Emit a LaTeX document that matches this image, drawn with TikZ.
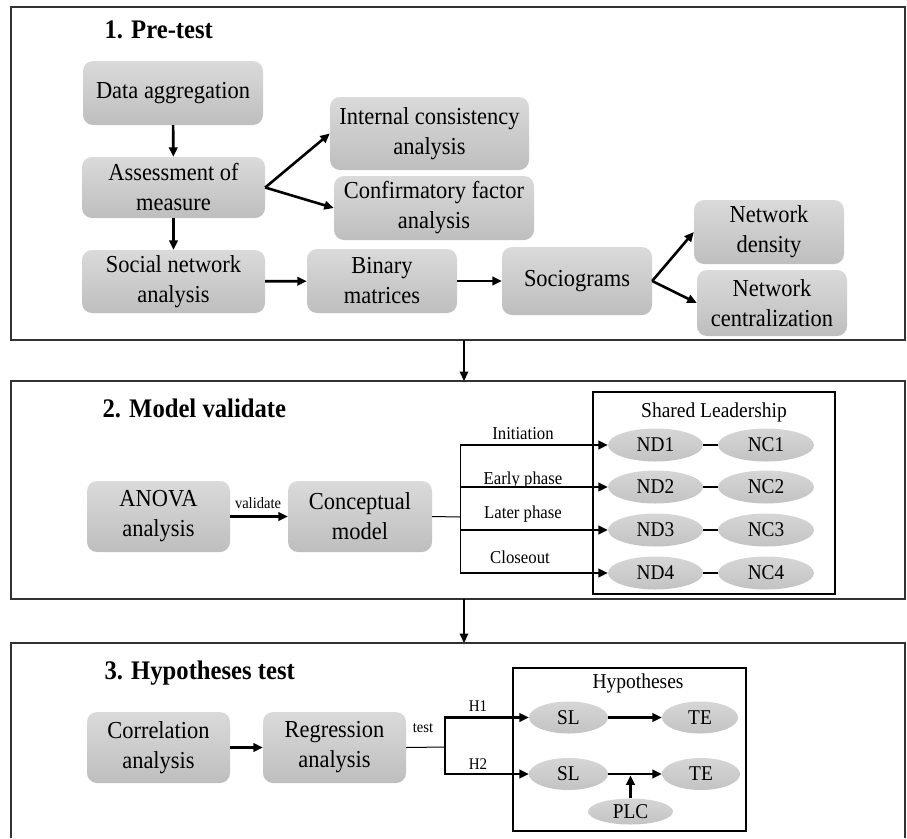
\documentclass[tikz,border=0pt]{standalone}
\usepackage{fontspec}
\setmainfont{Liberation Serif}[FakeStretch=0.92]
\usetikzlibrary{arrows.meta,shapes.geometric}

\definecolor{boxtop}{RGB}{218,218,218}
\definecolor{boxbot}{RGB}{190,190,190}
\definecolor{elltop}{RGB}{214,214,214}
\definecolor{ellbot}{RGB}{195,195,195}
\definecolor{framegray}{RGB}{50,50,50}

\newcommand\procfont{\fontsize{24.4}{30}\selectfont}
\newcommand\sectfont{\fontsize{26.8}{30}\selectfont\bfseries}
\newcommand\ellfont{\fontsize{21}{22}\selectfont}
\newcommand\grpfont{\fontsize{21.2}{22}\selectfont}
\newcommand\phasefont{\fontsize{18.2}{20}\selectfont}
\newcommand\smallfont{\fontsize{15.8}{17}\selectfont}
\newcommand\hypfont{\fontsize{16.3}{18}\selectfont}

\begin{document}
\begin{tikzpicture}[x=1pt,y=-1pt,
  procbox/.style={rounded corners=10pt, top color=boxtop, bottom color=boxbot,
    align=center, font=\procfont, inner sep=0pt},
  ell/.style={ellipse, top color=elltop, bottom color=ellbot, font=\ellfont, inner sep=0pt},
  arr/.style={line width=2.6pt, -{Triangle[length=9.5pt,width=8.5pt]}},
  linkline/.style={line width=1pt},
  secframe/.style={draw=framegray, line width=2pt},
  grpframe/.style={draw=black, line width=1.5pt}]

\useasboundingbox (0,0) rectangle (907,838);

% ---------- section frames ----------
\draw[secframe] (11,7) rectangle (905,340);
\draw[secframe] (11,381) rectangle (905,599);
\draw[secframe] (11,838) -- (11,643) -- (905,643) -- (905,838);

\coordinate (s1out) at (464,340);
\coordinate (s2in) at (464,381);
\coordinate (s2out) at (464,599);
\coordinate (s3in) at (464,643);
\draw[arr, line width=2pt] (s1out) -- (s2in);
\draw[arr, line width=2pt] (s2out) -- (s3in);

% ---------- 1. Pre-test ----------
\node[font=\sectfont, anchor=west] (t1) at (101,30) {1. Pre-test};

\node[procbox, minimum width=180pt, minimum height=64pt] (da) at (173,93) {Data aggregation};
\node[procbox, minimum width=183pt, minimum height=61pt] (am) at (173.5,187.5) {Assessment of\\measure};
\node[procbox, minimum width=183pt, minimum height=63pt] (sna) at (173.5,281.5) {Social network\\analysis};
\node[procbox, minimum width=199pt, minimum height=73pt] (ic) at (429.5,133.5) {Internal consistency\\analysis};
\node[procbox, minimum width=200pt, minimum height=64pt] (cf) at (434,208) {Confirmatory factor\\analysis};
\node[procbox, minimum width=150pt, minimum height=64pt] (bm) at (382,281) {Binary\\matrices};
\node[procbox, minimum width=150pt, minimum height=68pt] (soc) at (577,281) {Sociograms};
\node[procbox, minimum width=150pt, minimum height=64pt] (nden) at (769,232) {Network\\density};
\node[procbox, minimum width=150pt, minimum height=66pt] (ncen) at (772,303) {Network\\centralization};

\draw[arr] (da) -- (am);
\draw[arr] (am) -- (sna);
\draw[arr] (am.east) -- (ic.west);
\draw[arr] (am.east) -- (cf.west);
\draw[arr] (sna) -- (bm);
\draw[arr] (bm) -- (soc);
\draw[arr] (soc.east) -- (nden.west);
\draw[arr] (soc.east) -- (ncen.west);

% ---------- 2. Model validate ----------
\node[font=\sectfont, anchor=west] (t2) at (99,408) {2. Model validate};

\node[procbox, minimum width=143pt, minimum height=71pt] (anova) at (158.5,516.5) {ANOVA\\analysis};
\node[procbox, minimum width=144pt, minimum height=71pt] (cm) at (360,516.5) {Conceptual\\model};
\draw[arr] (anova) -- (cm);
\node[font=\smallfont] (val) at (258,503) {validate};

\draw[grpframe] (593,392) rectangle (835,594);
\node[font=\grpfont] (slt) at (714,412) {Shared Leadership};

\foreach \i/\y in {1/445,2/487,3/530,4/573}{
  \node[ell, minimum width=95pt, minimum height=33pt] (nd\i) at (655.5,\y) {ND\i};
  \node[ell, minimum width=96pt, minimum height=33pt] (nc\i) at (766,\y) {NC\i};
  \draw[line width=1.5pt] (nd\i) -- (nc\i);
}

\coordinate (f2) at (460,517);
\draw[linkline] (cm.east) -- (f2);
\draw[linkline] (f2 |- nd1) -- (f2 |- nd4);
\foreach \i in {1,...,4}{
  \draw[arr] (f2 |- nd\i) -- (nd\i.west);
}
\node[font=\phasefont] (ph1) at (523,434) {Initiation};
\node[font=\phasefont] (ph2) at (523,480) {Early phase};
\node[font=\phasefont] (ph3) at (523,514) {Later phase};
\node[font=\phasefont] (ph4) at (520,557) {Closeout};

% ---------- 3. Hypotheses test ----------
\node[font=\sectfont, anchor=west] (t3) at (101,673) {3. Hypotheses test};

\node[procbox, minimum width=143pt, minimum height=71pt] (corr) at (158.5,747.5) {Correlation\\analysis};
\node[procbox, minimum width=143pt, minimum height=71pt] (reg) at (334.5,747.5) {Regression\\analysis};
\draw[arr] (corr) -- (reg);

\draw[grpframe] (513,668) rectangle (746,831);
\node[font=\grpfont] (hyt) at (638,683) {Hypotheses};

\node[ell, minimum width=79pt, minimum height=32pt] (sl1) at (568.5,717.5) {SL};
\node[ell, minimum width=76pt, minimum height=32pt] (te1) at (700,717.5) {TE};
\node[ell, minimum width=79pt, minimum height=32pt] (sl2) at (568.5,774) {SL};
\node[ell, minimum width=78pt, minimum height=32pt] (te2) at (701,774) {TE};
\node[ell, minimum width=85pt, minimum height=26pt] (plc) at (630.5,811.5) {PLC};

\coordinate (f3) at (445,747);
\draw[linkline] (reg.east) -- (f3);
\node[font=\smallfont] (tst) at (423,728) {test};
\draw[line width=2.6pt, {Triangle[length=9.5pt,width=8.5pt]}-{Triangle[length=9.5pt,width=8.5pt]}]
  (sl1.west) -- (f3 |- sl1) -- (f3 |- sl2) -- (sl2.west);
\node[font=\hypfont] (h1) at (478,706) {H1};
\node[font=\hypfont] (h2) at (478,764) {H2};

\draw[arr] (sl1) -- (te1);
\draw[arr] (sl2) -- (te2);
\draw[arr, shorten >=1.3pt] (plc) -- (plc |- sl2);

\end{tikzpicture}
\end{document}
